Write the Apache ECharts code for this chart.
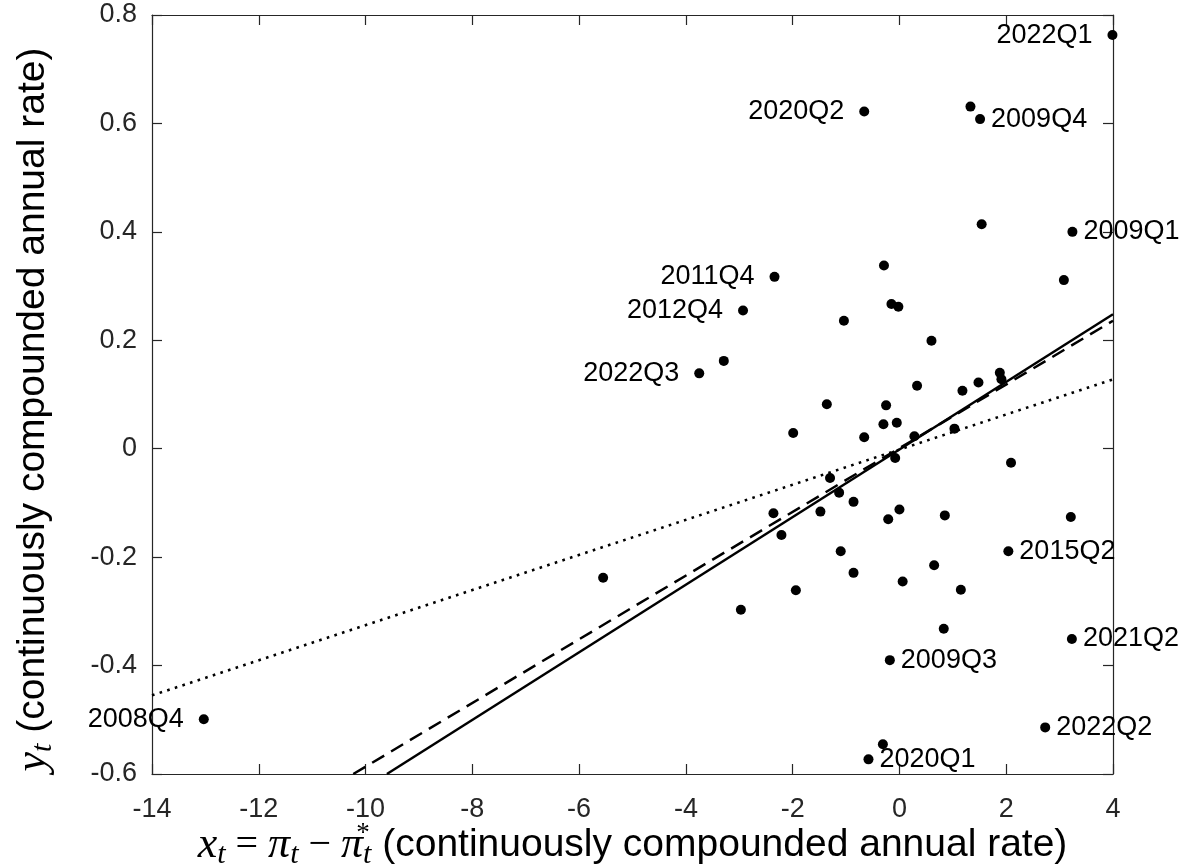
<!DOCTYPE html>
<html>
<head>
<meta charset="utf-8">
<script src="https://cdn.jsdelivr.net/npm/echarts@6/dist/echarts.min.js"></script>
<style>
  html, body { margin: 0; padding: 0; background: #fff; }
  #chartBox { width: 1187px; height: 866px; }
</style>
</head>
<body>
<div id="chartBox"></div>
<script>
// labelled quarters: [x, y, name, side of the label]
var labeledPoints = [
  [3.99, 0.763, "2022Q1", "left"],
  [-0.66, 0.622, "2020Q2", "left"],
  [1.51, 0.608, "2009Q4", "right"],
  [3.24, 0.400, "2009Q1", "right"],
  [-2.34, 0.317, "2011Q4", "left"],
  [-2.93, 0.255, "2012Q4", "left"],
  [-3.75, 0.139, "2022Q3", "left"],
  [2.04, -0.189, "2015Q2", "right"],
  [3.23, -0.351, "2021Q2", "right"],
  [-0.18, -0.390, "2009Q3", "right"],
  [-13.03, -0.499, "2008Q4", "left"],
  [2.73, -0.514, "2022Q2", "right"],
  [-0.58, -0.573, "2020Q1", "right"]
];

// the other quarters (no label)
var otherPoints = [
  [1.33, 0.631], [1.54, 0.414], [3.08, 0.311], [-0.29, 0.338],
  [-0.15, 0.267], [-0.02, 0.262], [-1.04, 0.236], [0.60, 0.199],
  [-3.29, 0.162], [1.88, 0.140], [1.91, 0.128], [1.48, 0.122],
  [0.33, 0.116], [1.18, 0.107], [-1.36, 0.082], [-0.25, 0.080],
  [-0.05, 0.048], [-0.30, 0.045], [1.03, 0.037], [-1.99, 0.029],
  [0.28, 0.023], [-0.66, 0.021], [-0.08, -0.017], [2.09, -0.026],
  [-1.30, -0.054], [-1.13, -0.081], [-0.86, -0.098], [0.00, -0.112],
  [-1.48, -0.116], [-2.36, -0.119], [0.85, -0.123], [3.21, -0.126],
  [-0.21, -0.130], [-2.21, -0.159], [-1.10, -0.189], [0.65, -0.215],
  [-0.86, -0.229], [-5.55, -0.238], [0.06, -0.245], [1.15, -0.260],
  [-1.94, -0.261], [-2.97, -0.297], [0.83, -0.332], [-0.31, -0.545]
];

// fitted lines, end points
var solidFit = [[-9.6, -0.6], [4, 0.248]];
var dashedFit = [[-10.23, -0.6], [4, 0.236]];
var dottedFit = [[-14, -0.455], [4, 0.128]];

var xTicks = { min: -14, max: 4, interval: 2 };
var yTicks = { min: -0.6, max: 0.8, interval: 0.2 };

var sans = "'Liberation Sans', Arial, Helvetica, sans-serif";
var serif = "'Liberation Serif', 'DejaVu Serif', serif";
var axisColor = "#262626";

var mathRich = {
  m: { fontFamily: serif, fontStyle: "italic", fontSize: 44, color: "#000", verticalAlign: "middle" },
  s: { fontFamily: serif, fontStyle: "italic", fontSize: 30, color: "#000", verticalAlign: "middle", padding: [20, 0, 0, 0] },
  sup: { fontFamily: serif, fontSize: 27, color: "#000", verticalAlign: "middle", padding: [0, 0, 24, 0], width: 0, align: "left" },
  o: { fontFamily: serif, fontSize: 40, color: "#000", verticalAlign: "middle" },
  r: { fontFamily: sans, fontSize: 39, color: "#000", verticalAlign: "middle" }
};

function frameAxis(pos, ticks) {
  return {
    type: "value",
    position: pos,
    min: ticks.min,
    max: ticks.max,
    interval: ticks.interval,
    axisLine: { show: true, onZero: false, lineStyle: { color: axisColor, width: 1.2 } },
    axisTick: { show: true, inside: true, length: 10, lineStyle: { color: axisColor, width: 1.2 } },
    axisLabel: { show: false },
    splitLine: { show: false }
  };
}

var chartBox = echarts.init(document.getElementById("chartBox"));

var option = {
  backgroundColor: "#fff",
  animation: false,
  grid: {
    left: 152,
    right: 74,
    top: 15,
    bottom: 92,
    containLabel: false,
    outerBoundsMode: "none"
  },
  xAxis: [
    {
      type: "value",
      min: xTicks.min,
      max: xTicks.max,
      interval: xTicks.interval,
      axisLine: { show: true, onZero: false, lineStyle: { color: axisColor, width: 1.2 } },
      axisTick: { show: true, inside: true, length: 10, lineStyle: { color: axisColor, width: 1.2 } },
      axisLabel: { color: axisColor, fontSize: 27, fontFamily: sans, margin: 22 },
      splitLine: { show: false },
      name: "{m|x}{s|t}{o| = }{m|π}{s|t}{o| − }{m|π}{sup|*}{s|t}{r| (continuously compounded annual rate)}",
      nameLocation: "middle",
      nameGap: 46,
      nameMoveOverlap: false,
      nameTextStyle: { rich: mathRich }
    },
    frameAxis("top", xTicks)
  ],
  yAxis: [
    {
      type: "value",
      min: yTicks.min,
      max: yTicks.max,
      interval: yTicks.interval,
      axisLine: { show: true, onZero: false, lineStyle: { color: axisColor, width: 1.2 } },
      axisTick: { show: true, inside: true, length: 10, lineStyle: { color: axisColor, width: 1.2 } },
      axisLabel: {
        color: axisColor,
        fontSize: 27,
        fontFamily: sans,
        margin: 15,
        formatter: function(v) {
          return Math.abs(v) < 1e-9 ? "0" : String(Math.round(v * 10) / 10);
        }
      },
      splitLine: { show: false },
      name: "{m|y}{s|t}{r| (continuously compounded annual rate)}",
      nameLocation: "middle",
      nameGap: 94,
      nameMoveOverlap: false,
      nameTextStyle: { rich: mathRich, padding: [0, 30, 0, 0] }
    },
    frameAxis("right", yTicks)
  ],
  series: [
    {
      type: "line",
      data: dottedFit,
      symbol: "none",
      lineStyle: { color: "#000", width: 2.6, type: [2.6, 5.4] },
      z: 2
    },
    {
      type: "line",
      data: dashedFit,
      symbol: "none",
      lineStyle: { color: "#000", width: 2.5, type: [14, 8] },
      z: 2
    },
    {
      type: "line",
      data: solidFit,
      symbol: "none",
      lineStyle: { color: "#000", width: 2.5, type: "solid" },
      z: 2
    },
    {
      type: "scatter",
      symbol: "circle",
      symbolSize: 10,
      itemStyle: { color: "#000", opacity: 1 },
      data: otherPoints,
      z: 3
    },
    {
      type: "scatter",
      symbol: "circle",
      symbolSize: 10,
      itemStyle: { color: "#000", opacity: 1 },
      data: labeledPoints.map(function(p) {
        return {
          value: [p[0], p[1]],
          name: p[2],
          label: {
            show: true,
            position: p[3],
            distance: p[3] === "left" ? 15 : 6,
            formatter: "{b}",
            fontSize: 27,
            fontFamily: sans,
            color: "#000"
          }
        };
      }),
      z: 4
    }
  ]
};

chartBox.setOption(option);
window.onresize = function() {
  chartBox.resize();
};
</script>
</body>
</html>
